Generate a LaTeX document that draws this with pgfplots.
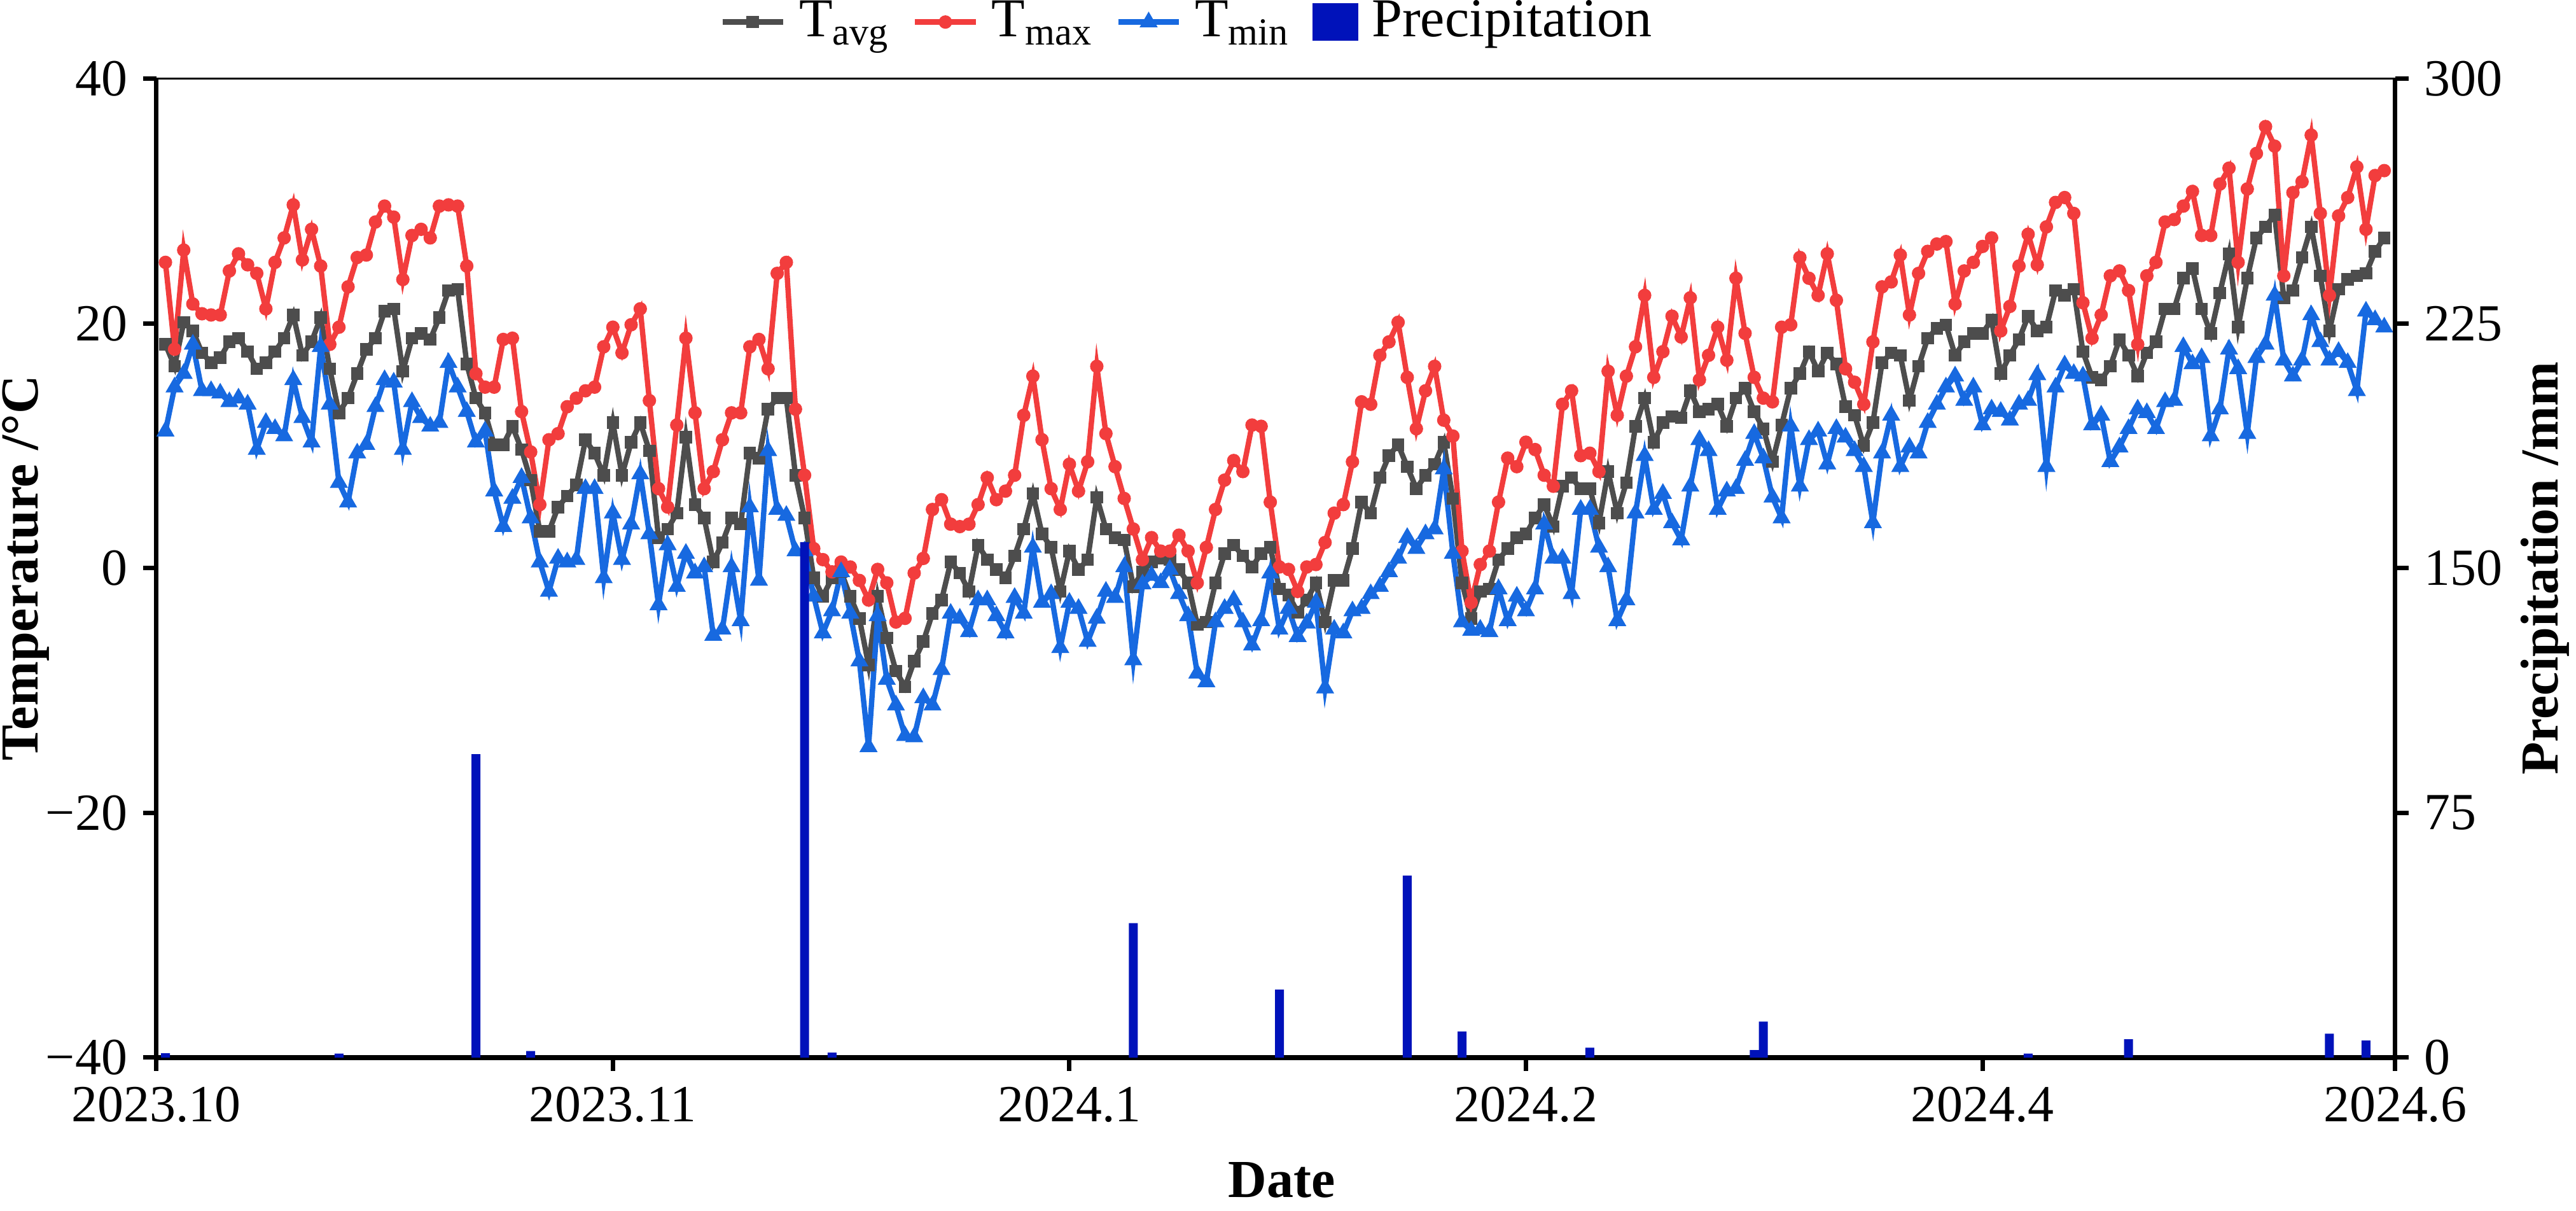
\documentclass[border=0pt]{standalone}
\usepackage{fontspec}
\setmainfont{Liberation Serif}
\usepackage{pgfplots}
\pgfplotsset{compat=1.18}
\usepackage{pgfplotstable}

\definecolor{cavg}{RGB}{77,77,77}
\definecolor{cmax}{RGB}{242,61,61}
\definecolor{cmin}{RGB}{23,105,224}
\definecolor{cpre}{RGB}{0,18,186}

\pgfplotstableread{
d t
1 25.0
2 17.9
3 26.0
4 21.6
5 20.8
6 20.7
7 20.7
8 24.3
9 25.7
10 24.8
11 24.1
12 21.2
13 25.0
14 27.0
15 29.7
16 25.2
17 27.7
18 24.7
19 18.3
20 19.7
21 23.0
22 25.4
23 25.6
24 28.3
25 29.6
26 28.7
27 23.6
28 27.2
29 27.7
30 27.0
31 29.6
32 29.7
33 29.6
34 24.7
35 15.9
36 14.8
37 14.8
38 18.7
39 18.8
40 12.8
41 9.5
42 5.2
43 10.5
44 11.0
45 13.2
46 13.9
47 14.5
48 14.8
49 18.1
50 19.7
51 17.6
52 19.9
53 21.2
54 13.7
55 6.5
56 5.0
57 11.7
58 18.8
59 12.7
60 6.5
61 7.9
62 10.5
63 12.7
64 12.7
65 18.1
66 18.7
67 16.3
68 24.1
69 25.0
70 13.0
71 7.6
72 1.6
73 0.7
74 -0.3
75 0.5
76 0.1
77 -1.0
78 -2.6
79 -0.1
80 -1.2
81 -4.4
82 -4.1
83 -0.4
84 0.8
85 4.8
86 5.6
87 3.6
88 3.4
89 3.6
90 5.2
91 7.4
92 5.6
93 6.3
94 7.6
95 12.5
96 15.7
97 10.5
98 6.5
99 4.8
100 8.5
101 6.3
102 8.7
103 16.5
104 11.0
105 8.3
106 5.7
107 3.2
108 0.7
109 2.5
110 1.4
111 1.4
112 2.7
113 1.4
114 -1.2
115 1.7
116 4.8
117 7.2
118 8.8
119 7.9
120 11.7
121 11.6
122 5.4
123 0.1
124 -0.1
125 -1.9
126 0.1
127 0.3
128 2.1
129 4.5
130 5.2
131 8.7
132 13.6
133 13.4
134 17.4
135 18.5
136 20.1
137 15.6
138 11.4
139 14.5
140 16.5
141 12.1
142 10.8
143 1.4
144 -2.8
145 0.3
146 1.4
147 5.4
148 9.0
149 8.3
150 10.3
151 9.7
152 7.6
153 6.7
154 13.4
155 14.5
156 9.2
157 9.4
158 7.9
159 16.1
160 12.5
161 15.7
162 18.1
163 22.3
164 15.6
165 17.7
166 20.6
167 18.9
168 22.1
169 15.4
170 17.4
171 19.7
172 17.0
173 23.7
174 19.2
175 15.6
176 13.9
177 13.6
178 19.7
179 19.9
180 25.4
181 23.7
182 22.3
183 25.7
184 21.9
185 16.3
186 15.2
187 13.4
188 18.5
189 23.0
190 23.4
191 25.6
192 20.7
193 24.1
194 25.9
195 26.5
196 26.7
197 21.6
198 24.3
199 25.0
200 26.3
201 27.0
202 19.4
203 21.4
204 24.7
205 27.3
206 24.8
207 27.9
208 29.9
209 30.3
210 29.0
211 21.7
212 18.8
213 20.7
214 23.9
215 24.3
216 22.7
217 18.3
218 23.9
219 25.0
220 28.3
221 28.5
222 29.6
223 30.8
224 27.2
225 27.2
226 31.4
227 32.7
228 25.0
229 31.0
230 33.9
231 36.1
232 34.5
233 23.9
234 30.7
235 31.6
236 35.4
237 29.0
238 22.3
239 28.8
240 30.3
241 32.8
242 27.7
243 32.1
244 32.5
}\tmax

\pgfplotstableread{
d t
1 18.3
2 16.5
3 20.1
4 19.4
5 17.6
6 16.8
7 17.2
8 18.5
9 18.8
10 17.7
11 16.3
12 16.8
13 17.7
14 18.8
15 20.7
16 17.4
17 18.5
18 20.5
19 16.3
20 12.7
21 13.9
22 15.9
23 17.9
24 18.8
25 21.0
26 21.2
27 16.1
28 18.8
29 19.2
30 18.7
31 20.5
32 22.7
33 22.8
34 16.7
35 13.9
36 12.7
37 10.1
38 10.1
39 11.6
40 9.7
41 7.2
42 3.0
43 3.0
44 5.0
45 5.9
46 6.8
47 10.5
48 9.4
49 7.6
50 11.9
51 7.6
52 10.3
53 11.9
54 9.6
55 2.5
56 3.2
57 4.5
58 10.7
59 5.2
60 4.1
61 0.5
62 2.1
63 4.1
64 3.6
65 9.4
66 9.0
67 13.0
68 13.9
69 13.9
70 7.6
71 4.1
72 -0.8
73 -2.3
74 -0.8
75 -0.3
76 -2.3
77 -4.1
78 -7.9
79 -2.3
80 -5.7
81 -8.4
82 -9.7
83 -7.6
84 -6.0
85 -3.7
86 -2.6
87 0.5
88 -0.4
89 -1.9
90 1.9
91 0.7
92 -0.1
93 -0.8
94 1.0
95 3.2
96 6.1
97 2.8
98 1.7
99 -1.9
100 1.4
101 -0.1
102 0.7
103 5.8
104 3.2
105 2.5
106 2.3
107 -1.5
108 -0.3
109 0.5
110 0.8
111 0.7
112 -0.1
113 -1.2
114 -4.6
115 -4.4
116 -1.2
117 1.2
118 1.9
119 1.0
120 0.1
121 1.2
122 1.7
123 -1.7
124 -2.2
125 -3.6
126 -2.6
127 -1.2
128 -4.4
129 -1.0
130 -1.0
131 1.6
132 5.4
133 4.5
134 7.4
135 9.2
136 10.1
137 8.3
138 6.5
139 7.6
140 8.5
141 10.3
142 5.7
143 -1.2
144 -4.1
145 -1.9
146 -1.7
147 0.7
148 1.6
149 2.5
150 2.8
151 4.1
152 5.2
153 3.4
154 6.7
155 7.4
156 6.5
157 6.5
158 3.7
159 7.9
160 4.5
161 7.0
162 11.6
163 13.9
164 10.3
165 11.9
166 12.4
167 12.3
168 14.5
169 12.8
170 13.0
171 13.4
172 11.6
173 13.9
174 14.7
175 12.8
176 11.4
177 8.7
178 11.7
179 14.7
180 15.9
181 17.7
182 16.1
183 17.6
184 16.7
185 13.2
186 12.5
187 10.0
188 11.9
189 16.8
190 17.6
191 17.4
192 13.7
193 16.5
194 18.8
195 19.6
196 19.9
197 17.4
198 18.5
199 19.2
200 19.2
201 20.3
202 15.9
203 17.4
204 18.7
205 20.6
206 19.4
207 19.7
208 22.7
209 22.3
210 22.8
211 17.7
212 15.6
213 15.4
214 16.5
215 18.7
216 17.4
217 15.7
218 17.6
219 18.5
220 21.2
221 21.2
222 23.7
223 24.5
224 21.2
225 19.2
226 22.5
227 25.7
228 19.7
229 23.7
230 27.0
231 27.9
232 28.9
233 22.1
234 22.7
235 25.4
236 27.9
237 23.9
238 19.4
239 22.8
240 23.6
241 23.9
242 24.1
243 25.9
244 27.0
}\tavg

\pgfplotstableread{
d t
1 11.2
2 14.8
3 15.9
4 18.3
5 14.5
6 14.5
7 14.3
8 13.6
9 13.9
10 13.4
11 9.7
12 11.9
13 11.4
14 10.8
15 15.4
16 12.3
17 10.3
18 18.1
19 13.4
20 7.0
21 5.4
22 9.4
23 10.1
24 13.2
25 15.4
26 15.2
27 9.7
28 13.6
29 12.3
30 11.6
31 11.9
32 16.8
33 14.8
34 12.8
35 10.3
36 11.2
37 6.3
38 3.4
39 5.7
40 7.4
41 4.1
42 0.5
43 -1.9
44 0.8
45 0.5
46 0.7
47 6.5
48 6.5
49 -0.8
50 4.5
51 0.7
52 3.6
53 7.7
54 2.8
55 -3.0
56 1.9
57 -1.5
58 1.2
59 -0.4
60 0.1
61 -5.5
62 -5.0
63 0.1
64 -4.3
65 5.0
66 -1.0
67 9.6
68 4.8
69 4.3
70 1.4
71 1.4
72 -2.3
73 -5.3
74 -3.5
75 -0.3
76 -3.7
77 -7.6
78 -14.6
79 -3.9
80 -9.1
81 -11.2
82 -13.7
83 -13.8
84 -10.6
85 -11.2
86 -8.3
87 -3.7
88 -4.1
89 -5.2
90 -2.6
91 -2.6
92 -3.9
93 -5.3
94 -2.4
95 -3.7
96 1.7
97 -2.8
98 -2.1
99 -6.5
100 -2.8
101 -3.3
102 -6.0
103 -4.1
104 -1.9
105 -2.4
106 0.1
107 -7.5
108 -1.3
109 -0.6
110 -1.2
111 -0.1
112 -2.1
113 -3.9
114 -8.6
115 -9.3
116 -4.4
117 -3.3
118 -2.6
119 -4.4
120 -6.3
121 -4.3
122 -0.4
123 -5.0
124 -3.3
125 -5.6
126 -4.5
127 -2.8
128 -9.8
129 -5.0
130 -5.3
131 -3.5
132 -3.3
133 -2.1
134 -1.5
135 -0.3
136 0.8
137 2.5
138 1.6
139 2.8
140 3.2
141 8.1
142 1.2
143 -4.4
144 -5.1
145 -5.0
146 -5.2
147 -1.7
148 -4.3
149 -2.3
150 -3.5
151 -1.7
152 3.6
153 0.8
154 0.8
155 -2.1
156 4.8
157 4.8
158 1.7
159 0.1
160 -4.3
161 -2.6
162 4.5
163 9.2
164 4.8
165 6.1
166 3.7
167 2.3
168 6.7
169 10.5
170 9.6
171 4.8
172 6.3
173 6.5
174 8.8
175 11.0
176 9.0
177 5.8
178 4.1
179 11.6
180 6.7
181 10.5
182 11.2
183 8.5
184 11.4
185 10.7
186 9.6
187 8.3
188 3.7
189 9.4
190 12.5
191 8.3
192 9.9
193 9.4
194 11.9
195 13.4
196 14.8
197 15.7
198 13.7
199 14.8
200 11.7
201 13.0
202 12.8
203 12.1
204 13.4
205 13.7
206 15.8
207 8.3
208 14.8
209 16.6
210 15.9
211 15.7
212 11.7
213 12.5
214 8.7
215 9.9
216 11.4
217 13.0
218 12.7
219 11.4
220 13.6
221 13.7
222 18.1
223 16.7
224 17.2
225 10.8
226 13.0
227 17.9
228 16.3
229 11.0
230 17.2
231 18.3
232 22.3
233 17.0
234 15.7
235 17.0
236 20.7
237 18.5
238 17.0
239 17.7
240 16.8
241 14.5
242 21.0
243 20.3
244 19.7
}\tmin

\pgfplotstableread{
d p
1 1.3
20 1.2
35 93.0
41 2.0
71 158.0
74 1.5
107 41.2
123 20.8
137 55.8
143 8.0
157 3.0
175 2.3
176 11.0
205 1.2
216 5.6
238 7.3
242 5.2
}\prec

\pgfplotsset{
  myframe/.style={
    scale only axis, width=502.7pt, height=219.7pt,
    xmin=0, xmax=245.2,
    tick align=outside,
    major tick length=3pt,
    every tick/.style={black, line width=1pt},
    ticklabel style={font=\fontsize{11.7}{14}\selectfont},
    label style={font=\fontsize{12}{14}\selectfont\bfseries},
  },
  stavg/.style={color=cavg, line width=1.2pt, mark=square*, mark size=0.8pt},
  stmax/.style={color=cmax, line width=1.2pt, mark=*, mark size=0.9pt},
  stmin/.style={color=cmin, line width=1.2pt, mark=triangle*, mark size=1.15pt},
  mylegline/.style={legend image code/.code={\draw[mark repeat=2,mark phase=2,##1] plot coordinates {(0pt,0pt) (6.8pt,0pt) (13.6pt,0pt)};}},
  mylegbox/.style={legend image code/.code={\fill[cpre] (0pt,-4pt) rectangle (9.9pt,4.1pt);}},
}

\begin{document}
\begin{tikzpicture}
\useasboundingbox (-35.1pt,-34.4pt) rectangle (543.3pt,237.4pt);
\begin{axis}[
  myframe,
  ymin=-40, ymax=40,
  axis x line*=bottom, axis y line*=left,
  x axis line style={-, line width=1.2pt},
  y axis line style={-, line width=1pt},
  xtick={0,50,100,150,200,245.2},
  xticklabels={2023.10,2023.11,2024.1,2024.2,2024.4,2024.6},
  ytick={-40,-20,0,20,40},
  yticklabels={−40,−20,0,20,40},
  xlabel={Date},
  ylabel={Temperature /°C},
  xlabel style={at={(axis description cs:0.5027,-0.1425)}, anchor=base},
  ylabel style={at={(axis description cs:-0.0583,0.5)}, anchor=center},
]
\addplot[stavg] table[x=d,y=t] {\tavg};
\addplot[stmax] table[x=d,y=t] {\tmax};
\addplot[stmin] table[x=d,y=t] {\tmin};
\end{axis}
\begin{axis}[
  myframe,
  ymin=0, ymax=300,
  axis x line*=top, axis y line*=right,
  x axis line style={-, line width=0.4pt},
  y axis line style={-, line width=1pt},
  xtick=\empty,
  ytick={0,75,150,225,300},
  yticklabels={0,75,150,225,300},
  ylabel={Precipitation /mm},
  ylabel style={at={(axis description cs:1.0668,0.5)}, anchor=center},
  legend columns=4,
  legend style={at={(axis description cs:0.4618,1.058)}, anchor=center,
    draw=none, fill=none, font=\fontsize{12.3}{14}\selectfont,
    /tikz/every odd column/.append style={column sep=1pt},
    /tikz/every even column/.append style={column sep=3pt},
    /tikz/column 6/.style={column sep=10pt}},
]
\addlegendimage{stavg, mylegline}
\addlegendentry{T\textsubscript{avg}}
\addlegendimage{stmax, mylegline}
\addlegendentry{T\textsubscript{max}}
\addlegendimage{stmin, mylegline}
\addlegendentry{T\textsubscript{min}}
\addlegendimage{mylegbox}
\addlegendentry{Precipitation}
\addplot[ybar, bar width=2pt, fill=cpre, draw=none, forget plot] table[x=d,y=p] {\prec};
\end{axis}
\end{tikzpicture}
\end{document}
